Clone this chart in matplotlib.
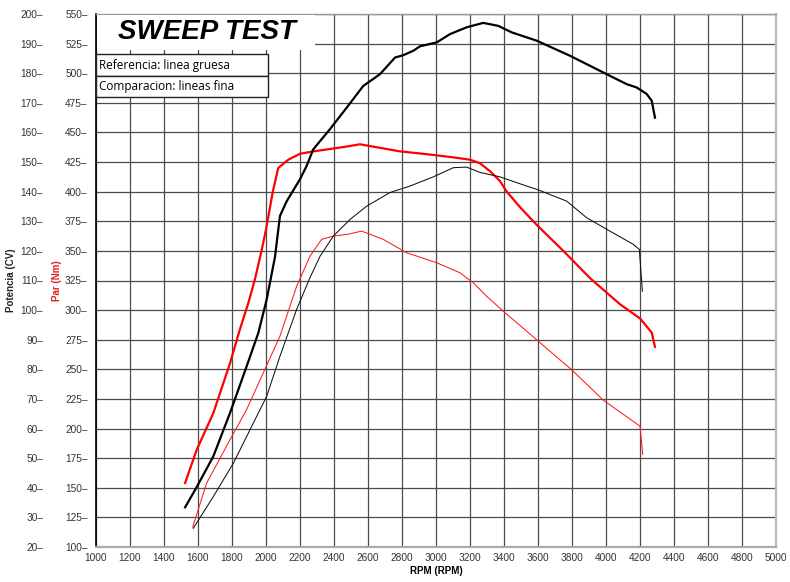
import matplotlib
matplotlib.use("Agg")
import matplotlib.pyplot as plt
from matplotlib.patches import Rectangle

# ---------------- data ----------------
ref_torque_rpm = [1524, 1592, 1690, 1788, 1847, 1896, 1935, 1975, 2000, 2040, 2072, 2131, 2200, 2278,
                  2376, 2470, 2553, 2671, 2788, 2890, 2984, 3100, 3200, 3259, 3320, 3376, 3416, 3500,
                  3592, 3749, 3906, 4082, 4200, 4269, 4288]
ref_torque_nm = [154, 182, 213, 255, 284, 306, 326, 351, 368, 400, 420, 427, 432, 434,
                 436, 438, 440, 437, 434, 432.5, 431, 429, 427, 424, 417, 409, 400, 386,
                 372, 350, 327, 305, 293, 281, 269]

ref_power_rpm = [1524, 1592, 1690, 1788, 1886, 1955, 2004, 2053, 2082, 2122, 2200, 2239, 2278, 2376,
                 2475, 2572, 2671, 2759, 2808, 2867, 2906, 3004, 3082, 3180, 3278, 3366, 3445, 3592,
                 3788, 3906, 4024, 4122, 4180, 4239, 4269, 4288]
ref_power_cv = [33.4, 40.2, 50.6, 65.2, 81, 92.3, 103.6, 118, 131.8, 136.8, 144.2, 148.7, 154.3, 161.1,
                168.4, 175.7, 179.7, 185.3, 186.1, 187.6, 189.1, 190.4, 193.2, 195.5, 197, 196, 193.8, 191,
                185.9, 182.5, 179.1, 176.3, 175.2, 173, 170.7, 165]

comp_torque_rpm = [1569, 1651, 1788, 1886, 1984, 2082, 2180, 2259, 2327, 2396, 2480, 2563, 2690,
                   2828, 3004, 3141, 3220, 3298, 3396, 3592, 3729, 3788, 3984, 4200, 4216]
comp_torque_nm = [117, 154, 190.5, 216, 247, 278, 320, 345.6, 359.7, 362.5, 364, 366.7, 359.7,
                  348.4, 340, 331.5, 323, 311.7, 299, 275, 258, 251, 224, 202, 178]

comp_power_rpm = [1572, 1690, 1808, 1906, 2004, 2082, 2180, 2259, 2318, 2396, 2494, 2592, 2729, 2847,
                  2984, 3102, 3180, 3259, 3376, 3533, 3592, 3769, 3886, 4004, 4161, 4196, 4214]
comp_power_cv = [26.3, 37, 48.3, 59.6, 70.9, 84.4, 100.2, 111, 118.2, 125, 130.6, 135.1, 139.7, 141.9,
                 145, 148.1, 148.3, 146.5, 145, 141.9, 140.8, 136.8, 131.2, 127.3, 122.2, 120.5, 106.4]

rpm_ticks = list(range(1000, 5001, 200))
nm_ticks = list(range(100, 551, 25))
cv_ticks = list(range(20, 201, 10))

title = "SWEEP TEST"
legend_lines = ["Referencia: linea gruesa", "Comparacion: lineas fina"]

# ---------------- figure ----------------
W, H = 790, 582
fig = plt.figure(figsize=(W / 100, H / 100), dpi=100)
L, R, T, B = 96, 776, 14, 547
ax = fig.add_axes([L / W, 1 - B / H, (R - L) / W, (B - T) / H])
ax2 = ax.twinx()

ax.set_xlim(1000, 5000)
ax.set_ylim(100, 550)
ax2.set_ylim(20, 200)

tick_font = dict(family="Liberation Sans", size=7.3, color="#333333")

ax.set_xticks(rpm_ticks)
ax.set_xticklabels([str(v) for v in rpm_ticks], **tick_font)
ax.set_yticks(nm_ticks)
ax.set_yticklabels([f"{v}\u2013" for v in nm_ticks], **tick_font)
ax.tick_params(axis="x", length=0, pad=4)
ax.tick_params(axis="y", length=0, pad=6)

ax2.yaxis.tick_left()
ax2.yaxis.set_label_position("left")
ax2.set_yticks(cv_ticks)
ax2.set_yticklabels([f"{v}\u2013" for v in cv_ticks], **tick_font)
ax2.tick_params(axis="y", length=0, pad=38)

ax.grid(True, color="#4a4a4a", linewidth=0.9)
ax.set_axisbelow(True)

for s in ax2.spines.values():
    s.set_visible(False)
ax.spines["left"].set_color("black")
ax.spines["left"].set_linewidth(1.2)
ax.spines["bottom"].set_color("#aaaaaa")
ax.spines["bottom"].set_linewidth(1.6)
ax.spines["top"].set_color("#999999")
ax.spines["top"].set_linewidth(1.0)
ax.spines["right"].set_color("#bbbbbb")
ax.spines["right"].set_linewidth(1.6)

# curves
ax.plot(comp_torque_rpm, comp_torque_nm, color="#ff1a1a", linewidth=0.75, zorder=3)
ax.plot(ref_torque_rpm, ref_torque_nm, color="#ff0000", linewidth=1.6, zorder=4)
ax2.plot(comp_power_rpm, comp_power_cv, color="#111111", linewidth=0.75, zorder=3)
ax2.plot(ref_power_rpm, ref_power_cv, color="black", linewidth=1.6, zorder=4)

# axis labels
ax.set_xlabel("RPM (RPM)", fontsize=7, fontweight="bold", family="Liberation Sans")
ax.xaxis.set_label_coords(0.5, (B - 566) / (B - T))
ax.set_ylabel("Par (Nm)", fontsize=7, fontweight="bold", color="#e02020", family="Liberation Sans")
ax.yaxis.set_label_coords((62 - L) / (R - L), 0.5)
ax2.set_ylabel("Potencia (CV)", fontsize=7, fontweight="bold", color="#222222", family="Liberation Sans")
ax2.yaxis.set_label_coords((16 - L) / (R - L), 0.5)

# title box and legend boxes (in axes fraction)
def ax_rect(x0, y0, x1, y1, **kw):
    r = Rectangle(((x0 - L) / (R - L), (B - y1) / (B - T)),
                  (x1 - x0) / (R - L), (y1 - y0) / (B - T),
                  transform=ax2.transAxes, clip_on=False, **kw)
    ax2.add_patch(r)

ax_rect(L + 1, T + 1, 315, 50, facecolor="white", edgecolor="none", zorder=10)
ax_rect(L, 54, 268, 76, facecolor="white", edgecolor="#222222", linewidth=1.0, zorder=11)
ax_rect(L, 76, 268, 97, facecolor="white", edgecolor="#222222", linewidth=1.0, zorder=11)

fig.text(207 / W, 1 - 32 / H, title, ha="center", va="center", fontsize=20,
         fontweight="bold", fontstyle="italic", family="Liberation Sans", zorder=12)
fig.text(99 / W, 1 - 65 / H, legend_lines[0], ha="left", va="center", fontsize=8.5,
         family="Open Sans", zorder=12)
fig.text(99 / W, 1 - 86.5 / H, legend_lines[1], ha="left", va="center", fontsize=8.5,
         family="Open Sans", zorder=12)

fig.savefig("out.png", dpi=100)
